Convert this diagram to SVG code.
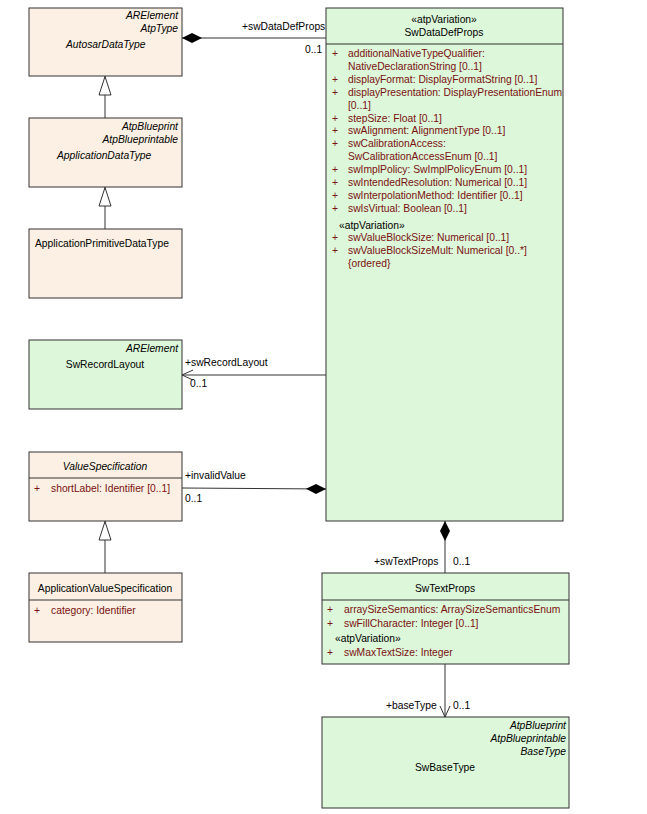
<svg xmlns="http://www.w3.org/2000/svg" width="647" height="814" viewBox="0 0 647 814">
<style>
text{font-family:"Liberation Sans",Arial,sans-serif;font-size:10.3px;fill:#000}
.b{fill:#FBF0E3;stroke:#333;stroke-width:1}
.g{fill:#DDF7DA;stroke:#333;stroke-width:1}
.it{font-style:italic}
.a{fill:#7A1010}
.m{text-anchor:middle}
.e{text-anchor:end}
.ln{stroke:#333;stroke-width:1;fill:none}
</style>
<defs>
<marker id="dia" markerWidth="22" markerHeight="12" refX="0" refY="6" orient="auto" markerUnits="userSpaceOnUse"><path d="M0,6 L10,1 L20,6 L10,11 Z" fill="#000"/></marker>
<marker id="tri" markerWidth="14" markerHeight="20" refX="7" refY="0" orient="0" markerUnits="userSpaceOnUse"><path d="M7,0.5 L13,19 L1,19 Z" fill="#fff" stroke="#333"/></marker>
<marker id="open" markerWidth="12" markerHeight="12" refX="11" refY="6" orient="auto" markerUnits="userSpaceOnUse"><path d="M0,1 L11,6 L0,11" fill="none" stroke="#333"/></marker>
</defs>
<g id="AutosarDataType"><rect class="b" x="29" y="8" width="153" height="68"/>
<text class="it e" x="178" y="19">ARElement</text><text class="it e" x="178" y="32">AtpType</text><text class="it" x="66" y="48">AutosarDataType</text></g>
<g id="ApplicationDataType"><rect class="b" x="29" y="118" width="153" height="69"/>
<text class="it e" x="178" y="130">AtpBlueprint</text><text class="it e" x="178" y="143">AtpBlueprintable</text><text class="it" x="57" y="159">ApplicationDataType</text></g>
<g id="ApplicationPrimitiveDataType"><rect class="b" x="29" y="229" width="153" height="69"/>
<text x="35" y="247">ApplicationPrimitiveDataType</text></g>
<g id="SwRecordLayout"><rect class="g" x="29" y="340" width="153" height="69"/>
<text class="it e" x="178" y="352">ARElement</text><text class="m" x="105" y="368">SwRecordLayout</text></g>
<g id="ValueSpecification"><rect class="b" x="29" y="452" width="153" height="69"/><line class="ln" x1="29" y1="478" x2="182" y2="478"/>
<text class="it m" x="105" y="470">ValueSpecification</text><text class="a" x="34" y="492">+</text><text class="a" x="51" y="492">shortLabel: Identifier [0..1]</text></g>
<g id="ApplicationValueSpecification"><rect class="b" x="29" y="573" width="153" height="69"/><line class="ln" x1="29" y1="600" x2="182" y2="600"/>
<text class="m" x="105" y="592">ApplicationValueSpecification</text><text class="a" x="34" y="614">+</text><text class="a" x="51" y="614">category: Identifier</text></g>
<g id="SwDataDefProps"><rect class="g" x="326" y="8" width="237" height="513"/><line class="ln" x1="326" y1="44" x2="563" y2="44"/>
<text class="m" x="444" y="23">«atpVariation»</text><text class="m" x="444" y="36">SwDataDefProps</text>
<text class="a" x="332" y="57">+</text><text class="a" x="348" y="57">additionalNativeTypeQualifier:</text><text class="a" x="348" y="70">NativeDeclarationString [0..1]</text>
<text class="a" x="332" y="83">+</text><text class="a" x="348" y="83">displayFormat: DisplayFormatString [0..1]</text>
<text class="a" x="332" y="96">+</text><text class="a" x="348" y="96">displayPresentation: DisplayPresentationEnum</text><text class="a" x="348" y="109">[0..1]</text>
<text class="a" x="332" y="122">+</text><text class="a" x="348" y="122">stepSize: Float [0..1]</text>
<text class="a" x="332" y="134">+</text><text class="a" x="348" y="134">swAlignment: AlignmentType [0..1]</text>
<text class="a" x="332" y="147">+</text><text class="a" x="348" y="147">swCalibrationAccess:</text><text class="a" x="348" y="160">SwCalibrationAccessEnum [0..1]</text>
<text class="a" x="332" y="173">+</text><text class="a" x="348" y="173">swImplPolicy: SwImplPolicyEnum [0..1]</text>
<text class="a" x="332" y="186">+</text><text class="a" x="348" y="186">swIntendedResolution: Numerical [0..1]</text>
<text class="a" x="332" y="199">+</text><text class="a" x="348" y="199">swInterpolationMethod: Identifier [0..1]</text>
<text class="a" x="332" y="212">+</text><text class="a" x="348" y="212">swIsVirtual: Boolean [0..1]</text>
<text x="339" y="229">«atpVariation»</text>
<text class="a" x="332" y="241">+</text><text class="a" x="348" y="241">swValueBlockSize: Numerical [0..1]</text>
<text class="a" x="332" y="254">+</text><text class="a" x="348" y="254">swValueBlockSizeMult: Numerical [0..*]</text><text class="a" x="348" y="267">{ordered}</text></g>
<g id="SwTextProps"><rect class="g" x="322" y="573" width="247" height="91"/><line class="ln" x1="322" y1="600" x2="569" y2="600"/>
<text class="m" x="445" y="592">SwTextProps</text>
<text class="a" x="327" y="613">+</text><text class="a" x="344" y="613">arraySizeSemantics: ArraySizeSemanticsEnum</text>
<text class="a" x="327" y="627">+</text><text class="a" x="344" y="627">swFillCharacter: Integer [0..1]</text>
<text x="335" y="642">«atpVariation»</text>
<text class="a" x="327" y="656">+</text><text class="a" x="344" y="656">swMaxTextSize: Integer</text></g>
<g id="SwBaseType"><rect class="g" x="322" y="717" width="247" height="91"/>
<text class="it e" x="566" y="729">AtpBlueprint</text><text class="it e" x="566" y="742">AtpBlueprintable</text><text class="it e" x="566" y="755">BaseType</text><text class="m" x="445" y="771">SwBaseType</text></g>
<g id="connectors">
<line class="ln" x1="182" y1="38" x2="326" y2="38" marker-start="url(#dia)"/>
<text x="242" y="30">+swDataDefProps</text><text x="305" y="53">0..1</text>
<line class="ln" x1="105" y1="76" x2="105" y2="118" marker-start="url(#tri)"/>
<line class="ln" x1="105" y1="187" x2="105" y2="229" marker-start="url(#tri)"/>
<line class="ln" x1="105" y1="521" x2="105" y2="573" marker-start="url(#tri)"/>
<line class="ln" x1="326" y1="375" x2="182" y2="375" marker-end="url(#open)"/>
<text x="185" y="366">+swRecordLayout</text><text x="190" y="387">0..1</text>
<line class="ln" x1="326" y1="489" x2="182" y2="488" marker-start="url(#dia)"/>
<text x="185" y="479">+invalidValue</text><text x="185" y="502">0..1</text>
<line class="ln" x1="445" y1="521" x2="445" y2="573" marker-start="url(#dia)"/>
<text x="374" y="565">+swTextProps</text><text x="453" y="565">0..1</text>
<line class="ln" x1="445" y1="664" x2="445" y2="717" marker-end="url(#open)"/>
<text x="386" y="709">+baseType</text><text x="453" y="709">0..1</text>
</g>
</svg>
